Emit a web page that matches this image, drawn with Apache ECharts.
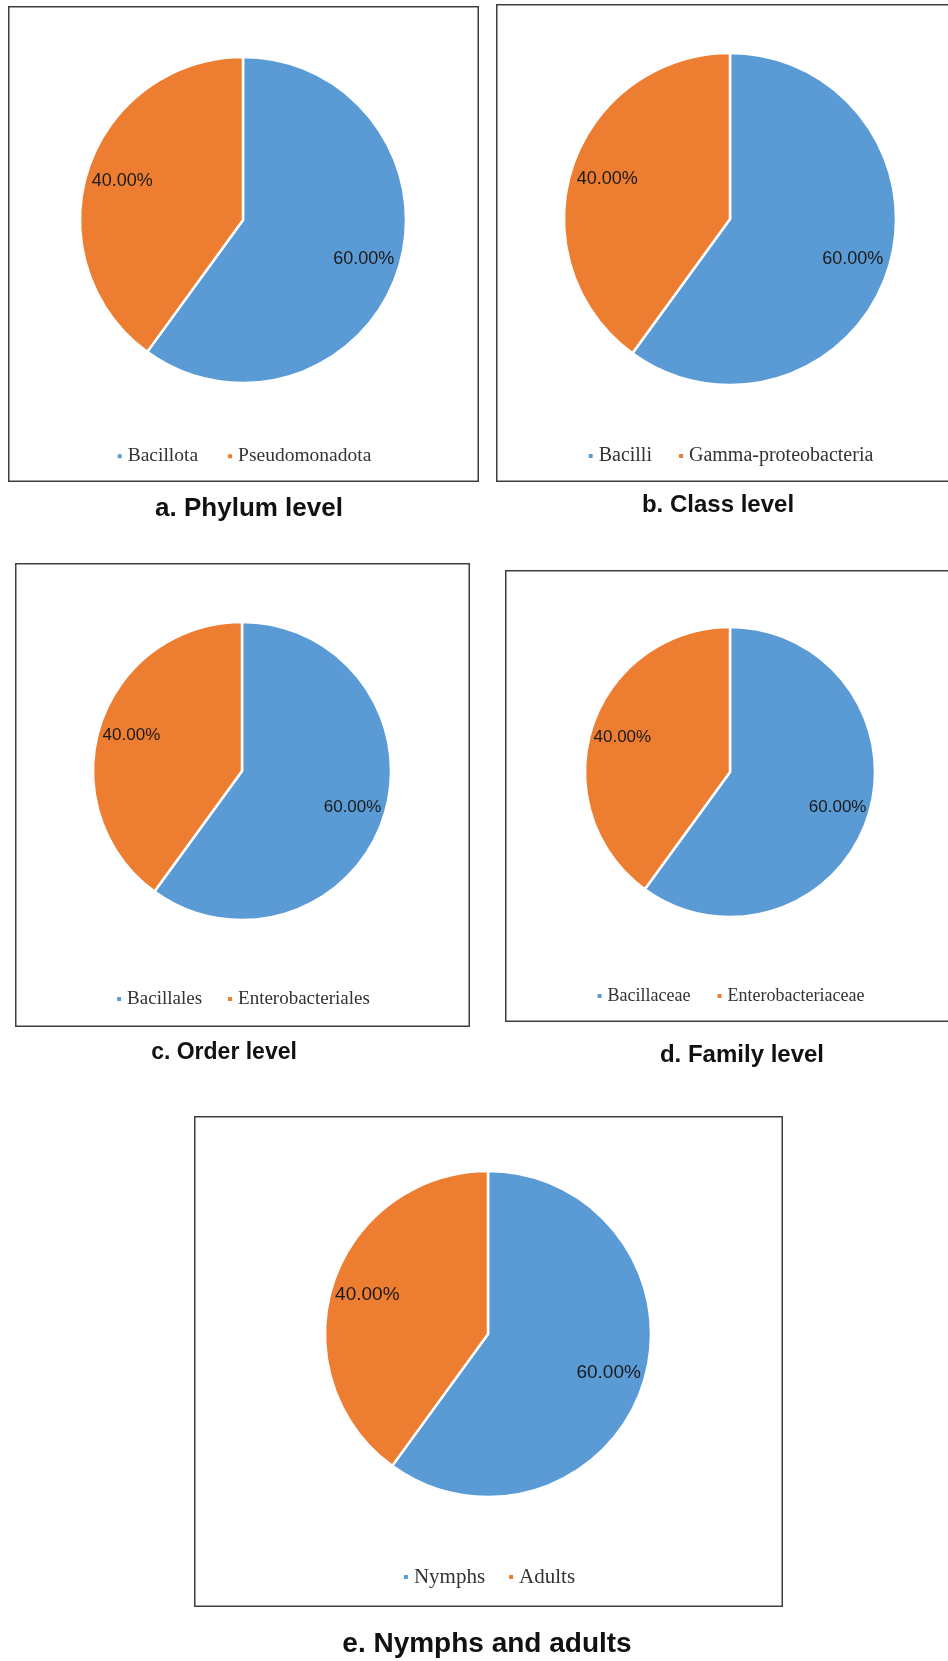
<!DOCTYPE html>
<html>
<head>
<meta charset="utf-8">
<script src="https://cdn.jsdelivr.net/npm/echarts@6/dist/echarts.min.js"></script>
<style>
  html, body { margin: 0; padding: 0; background: #fff; overflow: hidden; }
  #page { position: relative; width: 948px; height: 1661px; overflow: hidden; }
  .panel { position: absolute; }
</style>
</head>
<body>
<div id="page"></div>
<script>
// data
var phylumNames = ['Bacillota', 'Pseudomonadota'];
var phylumValues = [60, 40];
var classNames = ['Bacilli', 'Gamma-proteobacteria'];
var classValues = [60, 40];
var orderNames = ['Bacillales', 'Enterobacteriales'];
var orderValues = [60, 40];
var familyNames = ['Bacillaceae', 'Enterobacteriaceae'];
var familyValues = [60, 40];
var stageNames = ['Nymphs', 'Adults'];
var stageValues = [60, 40];
var panelTitles = ['a. Phylum level', 'b. Class level', 'c. Order level', 'd. Family level', 'e. Nymphs and adults'];

var colors = ['#5B9BD5', '#ED7D31'];

// layout of each boxed chart (page px): box x,y,w,h / pie centre / radius / legend y / caption
var panels = [
  { names: phylumNames, values: phylumValues, box: [8, 6, 471, 476], c: [243, 220], r: 163, legY: 452, legGap: 28, cap: [249, 509], capSize: 26, legSize: 19.5, labSize: 18 },
  { names: classNames, values: classValues, box: [496, 4, 468, 478], c: [730, 219], r: 166, legY: 452, legGap: 25, cap: [718, 505], capSize: 24, legSize: 20, labSize: 18 },
  { names: orderNames, values: orderValues, box: [15, 563, 455, 464], c: [242, 771], r: 149, legY: 995, legGap: 24, cap: [224, 1053], capSize: 23, legSize: 19, labSize: 17 },
  { names: familyNames, values: familyValues, box: [505, 570, 450, 452], c: [730, 772], r: 145, legY: 992, legGap: 25, cap: [742, 1055], capSize: 24, legSize: 18, labSize: 17 },
  { names: stageNames, values: stageValues, box: [194, 1116, 589, 491], c: [488, 1334], r: 163, legY: 1573, legGap: 22, cap: [487, 1644], capSize: 28, legSize: 21, labSize: 19 }
];

function drawPanel(p, idx) {
  var bx = p.box[0], by = p.box[1], bw = p.box[2], bh = p.box[3];
  var divH = p.cap[1] + 30 - by;
  var el = document.createElement('div');
  el.className = 'panel';
  el.style.left = bx + 'px';
  el.style.top = by + 'px';
  el.style.width = bw + 'px';
  el.style.height = divH + 'px';
  document.getElementById('page').appendChild(el);

  var chart = echarts.init(el, null, { renderer: 'canvas' });
  var data = p.names.map(function (n, i) { return { name: n, value: p.values[i] }; });
  var cx = p.c[0] - bx, cy = p.c[1] - by;

  chart.setOption({
    animation: false,
    color: colors,
    legend: {
      data: p.names,
      left: 'center',
      top: p.legY - by - p.legSize / 2 - 1,
      icon: 'rect',
      itemWidth: 6,
      itemHeight: 6,
      itemGap: p.legGap,
      textStyle: { fontFamily: 'Liberation Serif', fontSize: p.legSize, color: '#333' }
    },
    graphic: [
      {
        type: 'rect',
        shape: { x: 0.75, y: 0.75, width: bw - 1.5, height: bh - 1.5 },
        style: { fill: null, stroke: '#3f3f3f', lineWidth: 1.5 },
        silent: true
      },
      {
        type: 'text',
        x: p.cap[0] - bx,
        y: p.cap[1] - by,
        style: {
          text: panelTitles[idx],
          fontFamily: 'Liberation Sans',
          fontWeight: 'bold',
          fontSize: p.capSize,
          fill: '#111',
          textAlign: 'center',
          textVerticalAlign: 'middle'
        },
        silent: true
      }
    ],
    series: [
      {
        type: 'pie',
        center: [cx, cy],
        radius: [0, p.r],
        startAngle: 90,
        clockwise: true,
        label: { show: false },
        labelLine: { show: false },
        emphasis: { disabled: true },
        itemStyle: { borderColor: '#fff', borderWidth: 2.5 },
        data: data
      },
      {
        // transparent ring only used to place the percentage labels
        type: 'pie',
        center: [cx, cy],
        radius: [p.r * 0.52, p.r],
        startAngle: 90,
        clockwise: true,
        silent: true,
        emphasis: { disabled: true },
        itemStyle: { color: 'rgba(0,0,0,0)' },
        label: {
          show: true,
          position: 'inside',
          fontFamily: 'Liberation Sans',
          fontSize: p.labSize,
          color: '#1a1a1a',
          formatter: function (d) { return d.value.toFixed(2) + '%'; }
        },
        labelLine: { show: false },
        data: data
      }
    ]
  });
}

panels.forEach(drawPanel);
</script>
</body>
</html>
